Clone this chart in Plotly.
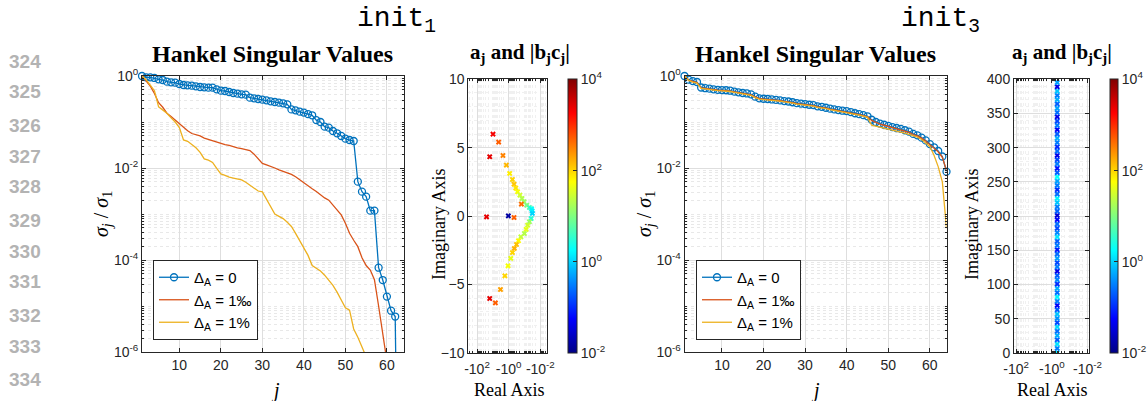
import numpy as np
import plotly.graph_objects as go

W, H = 1148, 401


def fx(p):
    return p / W


def fy(p):
    return 1 - p / H


# ---------------- data ----------------
j_idx = list(range(1, 65))

# init_1 : normalized Hankel singular values
hsv1_d0 = [1.0, 0.935, 0.935, 0.906, 0.847, 0.818, 0.753, 0.728, 0.716, 0.670,
           0.637, 0.627, 0.617, 0.596, 0.577, 0.568, 0.557, 0.557, 0.513, 0.480,
           0.472, 0.449, 0.427, 0.413, 0.399, 0.393, 0.338, 0.327, 0.316, 0.306,
           0.296, 0.281, 0.272, 0.263, 0.255, 0.242, 0.188, 0.179, 0.168, 0.160,
           0.149, 0.140, 0.110, 0.100, 0.0792, 0.0753, 0.0637, 0.0568, 0.0497, 0.0435,
           0.0406, 0.0386, 5.05e-3, 3.06e-3, 2.38e-3, 1.18e-3, 1.18e-3, 6.8e-5, 3.67e-5, 1.6e-5,
           7.9e-6, 5.9e-6, 1e-12]
hsv1_d1m = [1.0, 0.794, 0.603, 0.417, 0.263, 0.209, 0.155, 0.132, 0.110, 0.0912,
            0.0759, 0.0646, 0.0562, 0.0537, 0.0501, 0.0447, 0.0417, 0.0398, 0.0372, 0.0347,
            0.0324, 0.0309, 0.0288, 0.0275, 0.0263, 0.0251, 0.0240, 0.0200, 0.0158, 0.0126,
            0.0117, 0.0110, 0.0100, 0.00912, 0.00851, 0.00794, 0.00724, 0.00646, 0.00550, 0.00468,
            0.00407, 0.00355, 0.00309, 0.00263, 0.00224, 0.00200, 0.00158, 0.00126, 0.000955, 0.000631,
            0.000380, 0.000269, 0.000195, 0.000112, 7.59e-5, 6.03e-5, 3.72e-5, 1.0e-5, 2.82e-6, 8.9e-7,
            2e-7, 5e-8, 1e-8, 1e-9]
hsv1_d1p = [1.0, 0.832, 0.631, 0.479, 0.214, 0.182, 0.155, 0.123, 0.100, 0.0759,
            0.0407, 0.0380, 0.0324, 0.0275, 0.0219, 0.0158, 0.0148, 0.0132, 0.00977, 0.00741,
            0.00692, 0.00631, 0.00603, 0.00575, 0.00550, 0.00490, 0.00427, 0.00363, 0.00316, 0.00302,
            0.00209, 0.00141, 0.00100, 0.000891, 0.000794, 0.000661, 0.000537, 0.000380, 0.000269, 0.000178,
            0.000126, 7.59e-5, 6.61e-5, 5.75e-5, 4.68e-5, 3.72e-5, 2.82e-5, 2.0e-5, 1.32e-5, 9.12e-6,
            8.13e-6, 3.16e-6, 2.09e-6, 1.32e-6, 7.9e-7, 4e-7, 2e-7, 1e-7, 5e-8, 2e-8,
            1e-8, 5e-9, 2e-9, 1e-9]

# init_3 : normalized Hankel singular values
hsv3_d0 = [1.0, 0.832, 0.776, 0.741, 0.562, 0.543, 0.531, 0.513, 0.501, 0.495,
           0.490, 0.479, 0.457, 0.442, 0.427, 0.417, 0.398, 0.355, 0.327, 0.320,
           0.316, 0.309, 0.302, 0.295, 0.285, 0.279, 0.269, 0.257, 0.251, 0.245,
           0.237, 0.232, 0.219, 0.214, 0.204, 0.195, 0.188, 0.182, 0.176, 0.172,
           0.164, 0.155, 0.148, 0.141, 0.133, 0.112, 0.100, 0.0923, 0.0871, 0.0822,
           0.0776, 0.0741, 0.0708, 0.0661, 0.0617, 0.0550, 0.0513, 0.0457, 0.0398, 0.0331,
           0.0282, 0.0234, 0.0178, 0.00832]
hsv3_d1m = [1.0, 0.81, 0.76, 0.72, 0.55, 0.53, 0.52, 0.50, 0.49, 0.485,
            0.48, 0.47, 0.45, 0.435, 0.42, 0.41, 0.39, 0.35, 0.322, 0.315,
            0.311, 0.304, 0.297, 0.29, 0.28, 0.274, 0.264, 0.252, 0.246, 0.24,
            0.232, 0.227, 0.214, 0.209, 0.2, 0.191, 0.184, 0.178, 0.172, 0.168,
            0.16, 0.151, 0.145, 0.138, 0.13, 0.108, 0.097, 0.09, 0.085, 0.08,
            0.0755, 0.072, 0.0688, 0.064, 0.0598, 0.0535, 0.05, 0.0445, 0.0388, 0.0322,
            0.0272, 0.0225, 0.017, 0.0088]
hsv3_d1p = [1.0, 0.80, 0.74, 0.70, 0.54, 0.52, 0.51, 0.49, 0.48, 0.475,
            0.47, 0.46, 0.44, 0.425, 0.41, 0.40, 0.38, 0.34, 0.315, 0.308,
            0.304, 0.297, 0.29, 0.283, 0.273, 0.267, 0.257, 0.246, 0.24, 0.234,
            0.226, 0.221, 0.209, 0.204, 0.195, 0.186, 0.179, 0.173, 0.167, 0.163,
            0.155, 0.147, 0.141, 0.134, 0.126, 0.0851, 0.0813, 0.0776, 0.0741, 0.0708,
            0.0676, 0.0646, 0.0617, 0.0575, 0.0537, 0.0501, 0.0468, 0.0417, 0.0355, 0.0295,
            0.019, 0.0107, 0.0050, 0.00049]

# init_1 poles a_j (real, imag) and residue magnitude |b_j c_j|
re_init1 = [-9.8, -4.3, -15.8, -2.3, -1.4, -0.87, -0.58, -0.46, -0.355, -0.275,
            -0.195, -0.145, -0.107, -0.158, -0.072, -0.049, -0.036, -0.033, -0.032, -25.0,
            -1.05, -0.46, -0.038, -0.049, -0.063, -0.079, -0.102, -0.17, -0.24, -0.32,
            -0.44, -0.58, -0.74, -1.1, -1.74, -3.3, -15.8, -6.9]
im_init1 = [5.99, 5.41, 4.34, 4.43, 3.73, 3.12, 2.68, 2.34, 2.05, 1.78,
            1.54, 1.29, 1.05, 0.88, 0.80, 0.63, 0.54, 0.39, 0.20, -0.05,
            0.02, -0.10, -0.17, -0.41, -0.66, -0.97, -1.27, -1.51, -1.80, -2.07,
            -2.36, -2.66, -3.09, -3.63, -4.36, -5.36, -6.02, -6.34]
bc_init1 = [2000, 500, 2500, 300, 150, 70, 100, 120, 80, 50,
            30, 20, 15, 400, 10, 5, 2, 1.5, 1.0, 2500,
            0.015, 500, 3, 15, 30, 40, 20, 25, 60, 130,
            160, 100, 40, 50, 100, 200, 2500, 500]

# init_3 poles
re_init3 = [-0.5, -0.5, -0.5, -0.5, -0.5, -0.5, -0.5, -0.5, -0.5, -0.5,
            -0.5, -0.5, -0.5, -0.5, -0.5, -0.5, -0.5, -0.5, -0.5, -0.5,
            -0.5, -0.5, -0.5, -0.5, -0.5, -0.5, -0.5, -0.5, -0.5, -0.5,
            -0.5, -0.5, -0.5, -0.5, -0.5, -0.5, -0.5, -0.5, -0.5, -0.5,
            -0.5, -0.5, -0.5, -0.5, -0.5, -0.5, -0.5, -0.5, -0.5, -0.5,
            -0.5, -0.5, -0.5, -0.5, -0.5, -0.5, -0.5, -0.5, -0.5, -0.5,
            -0.5, -0.5, -0.5, -0.5]
im_init3 = [0.5, 6.8, 13.1, 19.3, 25.6, 31.9, 38.1, 44.4, 50.7, 56.9,
            63.2, 69.5, 75.7, 82.0, 88.3, 94.5, 100.8, 107.1, 113.3, 119.6,
            125.9, 132.1, 138.4, 144.7, 150.9, 157.2, 163.5, 169.7, 176.0, 182.3,
            188.5, 194.8, 201.1, 207.3, 213.6, 219.9, 226.1, 232.4, 238.7, 244.9,
            251.2, 257.5, 263.7, 270.0, 276.3, 282.5, 288.8, 295.1, 301.3, 307.6,
            313.9, 320.1, 326.4, 332.7, 338.9, 345.2, 351.5, 357.7, 364.0, 370.3,
            376.5, 382.8, 389.1, 395.3]
bc_init3 = [1.5, 0.3, 1.2, 0.2, 0.6, 0.25, 1.0, 0.15, 0.4, 0.8,
            0.2, 0.05, 0.3, 1.5, 0.25, 0.6, 0.1, 0.35, 0.2, 0.04,
            0.3, 0.15, 0.5, 0.25, 0.08, 0.3, 0.2, 1.2, 0.35, 0.15,
            0.25, 0.06, 0.03, 0.2, 0.3, 0.8, 1.5, 0.25, 0.1, 0.3,
            0.5, 1.8, 0.2, 0.07, 0.3, 0.15, 0.04, 0.25, 0.1, 0.3,
            0.6, 0.2, 0.05, 0.3, 0.15, 0.04, 0.25, 0.5, 0.2, 0.6,
            0.3, 0.8, 0.04, 0.5]

legend_names = ["Δ<sub>A</sub> = 0", "Δ<sub>A</sub> = 1‰", "Δ<sub>A</sub> = 1%"]
line_numbers = ["324", "325", "326", "327", "328", "329", "330", "331", "332", "333", "334"]

# ---------------- style ----------------
BLUE, ORANGE, YELLOW = "#0072BD", "#D95319", "#EDB120"
AX = "#262626"
GRID = "#dedede"
MINOR = "#f0f0f0"
SANS = "Liberation Sans, Arial, Helvetica, sans-serif"
SERIF = "Liberation Serif, Times New Roman, serif"
MONO = "Liberation Mono, Courier New, monospace"
JET = [[0, "#000085"], [0.125, "#0000ff"], [0.375, "#00ffff"],
       [0.625, "#ffff00"], [0.875, "#ff0000"], [1, "#800000"]]

fig = go.Figure()


def add_hsv(xa, ya, leg, d0, d1m, d1p):
    fig.add_trace(go.Scatter(x=j_idx[:len(d0)], y=d0, mode="lines+markers", name=legend_names[0],
                             line=dict(color=BLUE, width=1.3),
                             marker=dict(symbol="circle-open", size=7, color=BLUE, line=dict(width=1.3)),
                             xaxis=xa, yaxis=ya, legend=leg, cliponaxis=False))
    fig.add_trace(go.Scatter(x=j_idx[:len(d1m)], y=d1m, mode="lines", name=legend_names[1],
                             line=dict(color=ORANGE, width=1.3), xaxis=xa, yaxis=ya, legend=leg))
    fig.add_trace(go.Scatter(x=j_idx[:len(d1p)], y=d1p, mode="lines", name=legend_names[2],
                             line=dict(color=YELLOW, width=1.3), xaxis=xa, yaxis=ya, legend=leg))


add_hsv("x", "y", "legend", hsv1_d0, hsv1_d1m, hsv1_d1p)
add_hsv("x3", "y3", "legend2", hsv3_d0, hsv3_d1m, hsv3_d1p)


def cbar(x0, x1, y0, y1):
    return dict(x=fx(x0), xanchor="left", y=fy(y0), yanchor="top",
                len=(y1 - y0) / H, lenmode="fraction", thickness=x1 - x0, thicknessmode="pixels",
                outlinecolor=AX, outlinewidth=1, xpad=0, ypad=0,
                tickvals=[-2, 0, 2, 4],
                ticktext=["10<sup>-2</sup>", "10<sup>0</sup>", "10<sup>2</sup>", "10<sup>4</sup>"],
                ticks="inside", ticklen=4, tickcolor=AX,
                tickfont=dict(family=SANS, size=14, color=AX))


fig.add_trace(go.Scatter(x=[-r for r in re_init1], y=im_init1, mode="markers", showlegend=False,
                         marker=dict(symbol="x", size=5, color=np.log10(bc_init1), colorscale=JET,
                                     cmin=-2, cmax=4, line=dict(width=0),
                                     colorbar=cbar(568, 577, 79.3, 353)),
                         xaxis="x2", yaxis="y2"))
fig.add_trace(go.Scatter(x=[-r for r in re_init3], y=im_init3, mode="markers", showlegend=False,
                         marker=dict(symbol="x", size=5, color=np.log10(bc_init3), colorscale=JET,
                                     cmin=-2, cmax=4, line=dict(width=0),
                                     colorbar=cbar(1110, 1118, 79.3, 353)),
                         xaxis="x4", yaxis="y4"))

# ---------------- axes ----------------
base = dict(showline=True, linecolor=AX, linewidth=1, mirror="ticks", ticks="inside",
            ticklen=4, tickcolor=AX, showgrid=True, gridcolor=GRID, gridwidth=1,
            zeroline=False, tickfont=dict(family=SANS, size=14, color=AX))

log_minor_y = [k * 10.0 ** e for e in range(-6, 0) for k in range(1, 10)]
log_minor_x = [k * 10.0 ** e for e in range(-3, 3) for k in range(1, 10)]
minor_log_y = dict(tickmode="array", tickvals=log_minor_y, ticks="inside", ticklen=2,
                   tickcolor=AX, showgrid=True, gridcolor="#e8e8e8", griddash="dot")
minor_log_x = dict(tickmode="array", tickvals=log_minor_x, ticks="inside", ticklen=2,
                   tickcolor=AX, showgrid=True, gridcolor=MINOR, griddash="dot")

hsv_y = dict(type="log", range=[-6, 0], tickmode="array", tickvals=[1, 1e-2, 1e-4, 1e-6],
             ticktext=["10<sup>0</sup>", "10<sup>-2</sup>", "10<sup>-4</sup>", "10<sup>-6</sup>"],
             minor=minor_log_y, **base)
hsv_x = dict(range=[1, 64], tickmode="array", tickvals=[10, 20, 30, 40, 50, 60], **base)
re_x_ticks = dict(type="log", tickmode="array", tickvals=[100, 1, 0.01],
                  ticktext=["-10<sup>2</sup>", "-10<sup>0</sup>", "-10<sup>-2</sup>"],
                  ticklabelstandoff=3, minor=minor_log_x, **base)

fig.update_layout(
    xaxis=dict(domain=[fx(142), fx(403.5)], anchor="y", **hsv_x),
    yaxis=dict(domain=[fy(352), fy(76)], anchor="x", **hsv_y),
    xaxis3=dict(domain=[fx(684.5), fx(946.5)], anchor="y3", **hsv_x),
    yaxis3=dict(domain=[fy(352), fy(76)], anchor="x3", **hsv_y),
    xaxis2=dict(domain=[fx(468.3), fx(546.7)], anchor="y2", range=[2.55, -2.4], **re_x_ticks),
    yaxis2=dict(domain=[fy(353), fy(79.3)], anchor="x2", range=[-10, 10], tickmode="array",
                tickvals=[-10, -5, 0, 5, 10],
                minor=dict(dtick=1, ticks="", showgrid=True, gridcolor=MINOR, griddash="dot"), **base),
    xaxis4=dict(domain=[fx(1014), fx(1089.3)], anchor="y4", range=[2.12, -2.1], **re_x_ticks),
    yaxis4=dict(domain=[fy(353), fy(79.3)], anchor="x4", range=[0, 400], tickmode="linear",
                tick0=0, dtick=50,
                minor=dict(dtick=10, ticks="", showgrid=True, gridcolor=MINOR, griddash="dot"), **base),
    width=W, height=H,
    margin=dict(l=0, r=0, t=0, b=0, autoexpand=False),
    paper_bgcolor="white", plot_bgcolor="white",
)

leg_common = dict(xanchor="left", yanchor="top", bgcolor="white", bordercolor=AX, borderwidth=1,
                  font=dict(family=SANS, size=15, color="black"), itemwidth=30, tracegroupgap=0)
fig.update_layout(legend=dict(x=fx(153), y=fy(260), **leg_common),
                  legend2=dict(x=fx(696), y=fy(260), **leg_common))

# ---------------- annotations ----------------
ann = []


def text(x, y, s, size, family, color="black", angle=0, xanchor="center", yanchor="middle"):
    ann.append(dict(x=fx(x), y=fy(y), xref="paper", yref="paper", text=s, showarrow=False,
                    font=dict(size=size, family=family, color=color), textangle=angle,
                    xanchor=xanchor, yanchor=yanchor))


line_ys = [61.7, 91.7, 125, 156, 186.7, 220, 251, 281.7, 315, 346.7, 379]
for s, yy in zip(line_numbers, line_ys):
    text(7, yy, "<b>%s</b>" % s, 19, SANS, color="#b3b3b3", xanchor="left")

text(396, 20, "init<sub>1</sub>", 28, MONO)
text(940, 20, "init<sub>3</sub>", 28, MONO)
text(272.5, 54, "<b>Hankel Singular Values</b>", 24, SERIF)
text(815.5, 54, "<b>Hankel Singular Values</b>", 24, SERIF)
text(520, 53, "<b>a<sub>j</sub> and |b<sub>j</sub>c<sub>j</sub>|</b>", 21, SERIF)
text(1062, 53, "<b>a<sub>j</sub> and |b<sub>j</sub>c<sub>j</sub>|</b>", 21, SERIF)
text(103, 214, "<i>σ<sub>j</sub></i> / <i>σ</i><sub>1</sub>", 20, SERIF, angle=-90)
text(646, 214, "<i>σ<sub>j</sub></i> / <i>σ</i><sub>1</sub>", 20, SERIF, angle=-90)
text(275, 390, "<i>j</i>", 20, SERIF)
text(815, 390, "<i>j</i>", 20, SERIF)
text(439, 225, "Imaginary Axis", 18, SERIF, angle=-90)
text(972, 225, "Imaginary Axis", 18, SERIF, angle=-90)
text(509, 390, "Real Axis", 18, SERIF)
text(1052, 390, "Real Axis", 18, SERIF)
fig.update_layout(annotations=ann)

fig.write_html("out.html")
